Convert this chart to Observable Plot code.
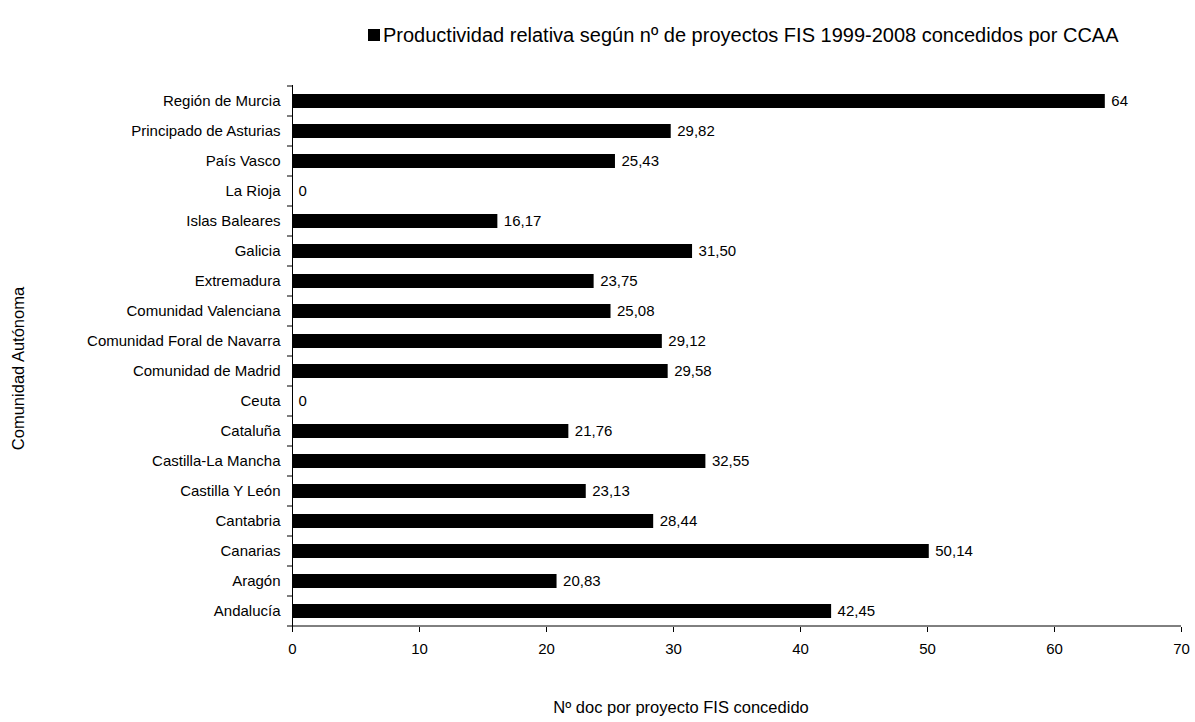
<!DOCTYPE html>
<html>
<head>
<meta charset="utf-8">
<script src="https://cdn.jsdelivr.net/npm/d3@7"></script>
<script src="https://cdn.jsdelivr.net/npm/@observablehq/plot@0.6"></script>
<style>
  body { margin: 0; background: #fff; font-family: "Liberation Sans", Arial, sans-serif; }
  #wrap { position: relative; width: 1195px; height: 722px; }
  #legend { position: absolute; left: 368px; top: 22px; height: 26px; font-size: 20px; color: #000; white-space: nowrap; display: flex; align-items: center; }
  #legend .sw { display: inline-block; width: 12px; height: 12px; background: #000; margin-right: 3px; }
  #chart { position: absolute; left: 0; top: 60px; }
</style>
</head>
<body>
<div id="wrap">
  <div id="legend"><span class="sw"></span><span id="legtext"></span></div>
  <div id="chart"></div>
</div>
<script>
const seriesName = "Productividad relativa según nº de proyectos FIS 1999-2008 concedidos por CCAA";
const categories = [
  "Región de Murcia", "Principado de Asturias", "País Vasco", "La Rioja", "Islas Baleares",
  "Galicia", "Extremadura", "Comunidad Valenciana", "Comunidad Foral de Navarra", "Comunidad de Madrid",
  "Ceuta", "Cataluña", "Castilla-La Mancha", "Castilla Y León", "Cantabria", "Canarias", "Aragón", "Andalucía"
];
const values = [64, 29.82, 25.43, 0, 16.17, 31.50, 23.75, 25.08, 29.12, 29.58, 0, 21.76, 32.55, 23.13, 28.44, 50.14, 20.83, 42.45];
const xTicks = [0, 10, 20, 30, 40, 50, 60, 70];
const xTitle = "Nº doc por proyecto FIS concedido";
const yTitle = "Comunidad Autónoma";

document.getElementById("legtext").textContent = seriesName;

const data = categories.map((c, i) => ({name: c, value: values[i]}));
const fmt = v => Number.isInteger(v) ? String(v) : v.toFixed(2).replace(".", ",");

const W = 1195, H = 662;
const pad = 0.53;
const plot = Plot.plot({
  width: W,
  height: H,
  marginLeft: 292,
  marginRight: 14,
  marginTop: 25,
  marginBottom: 95,
  style: {fontFamily: "'Liberation Sans', Arial, sans-serif", fontSize: "15px", color: "#000", background: "#fff"},
  x: {domain: [0, 70]},
  y: {domain: categories, paddingInner: pad, paddingOuter: pad / 2, align: 0.5},
  marks: [
    Plot.barX(data, {x: "value", y: "name", fill: "#000"}),
    Plot.text(data, {x: "value", y: "name", text: d => fmt(d.value), textAnchor: "start", dx: 6, fontSize: 15, fill: "#000"}),
    Plot.ruleX([0], {stroke: "#000", strokeWidth: 1}),
    Plot.axisX({ticks: xTicks, tickSize: 5, tickPadding: 11, tickFormat: d => String(d), label: null, fontSize: 15}),
    Plot.axisY({tickSize: 0, tickPadding: 12, label: null, fontSize: 15}),
    Plot.text([xTitle], {frameAnchor: "bottom", textAnchor: "middle", dx: -56, dy: 80, lineAnchor: "middle", fontSize: 16.5, fill: "#000"}),
    Plot.text([yTitle], {frameAnchor: "left", textAnchor: "middle", dx: -274, dy: 12, rotate: -90, lineAnchor: "middle", fontSize: 16.5, fill: "#000"})
  ]
});
document.getElementById("chart").appendChild(plot);

// boundary ticks on the category axis and bottom axis line, from the plot's own scales
const ys = plot.scale("y"), xs = plot.scale("x");
const svg = d3.select(plot);
const x0 = xs.apply(0), x1 = xs.apply(70);
const bounds = categories.map(c => ys.apply(c) + ys.bandwidth / 2 - ys.step / 2);
bounds.push(ys.apply(categories[categories.length - 1]) + ys.bandwidth / 2 + ys.step / 2);
const g = svg.append("g").attr("stroke", "#000").attr("stroke-width", 1);
g.selectAll("line.bt").data(bounds).join("line")
  .attr("x1", x0 - 5).attr("x2", x0).attr("y1", d => d).attr("y2", d => d);
g.append("line").attr("x1", x0).attr("x2", x1)
  .attr("y1", bounds[bounds.length - 1]).attr("y2", bounds[bounds.length - 1]);
</script>
</body>
</html>
